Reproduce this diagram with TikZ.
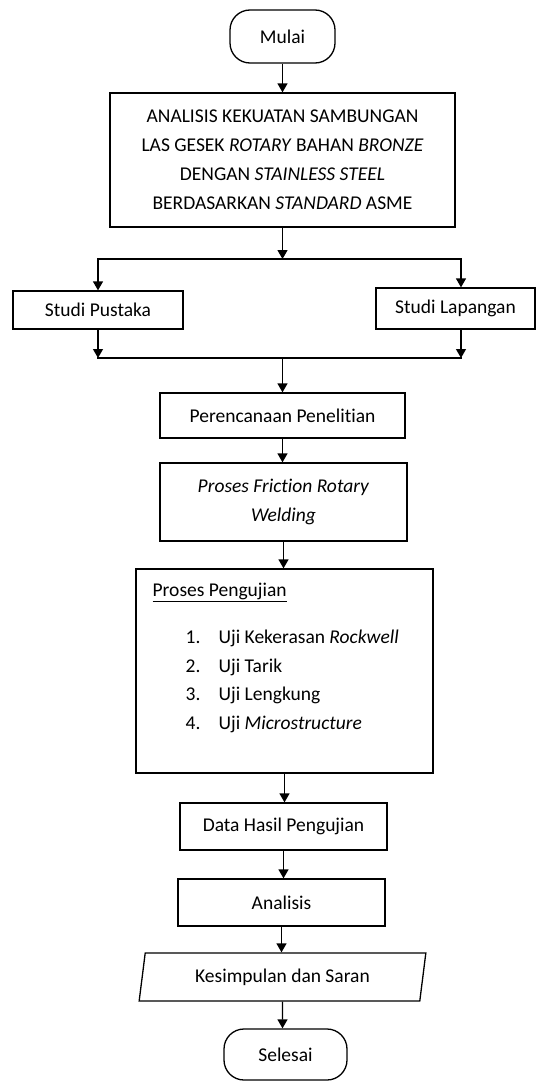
\documentclass[tikz,border=0pt]{standalone}
\usepackage{fontspec}
\setmainfont{Carlito}[Ligatures={NoCommon}]
\usetikzlibrary{arrows.meta,shapes.geometric}

\begin{document}
\begin{tikzpicture}[x=1pt,y=-1pt,line width=1.3pt,
        every node/.style={font=\fontsize{19.5}{29}\selectfont,inner sep=0pt},
        kotak/.style={draw,rectangle,align=center},
        terminal/.style={draw,rectangle,rounded corners=20pt,align=center},
        panah/.style={-{Triangle[width=10pt,length=9pt]}}]
        \useasboundingbox (0,0) rectangle (536,1081);
        %% Mulai
        \node[terminal,minimum width=105pt,minimum height=53pt]
            (mulai) at (282.5,36.5) {Mulai};
        %% Judul
        \node[kotak,minimum width=345pt,minimum height=134pt]
            (judul) at (282.5,160) {ANALISIS KEKUATAN SAMBUNGAN\\
            LAS GESEK \textit{ROTARY} BAHAN \textit{BRONZE}\\
            DENGAN \textit{STAINLESS STEEL}\\
            BERDASARKAN \textit{STANDARD} ASME};
        %% Studi
        \node[kotak,minimum width=170pt,minimum height=38pt]
            (pustaka) at (98,310) {Studi Pustaka};
        \node[kotak,minimum width=159pt,minimum height=41pt]
            (lapangan) at (455.5,308.5) {Studi Lapangan};
        \coordinate (lapatas) at ([xshift=5.5pt]lapangan.north);
        \coordinate (lapbawah) at ([xshift=5.5pt]lapangan.south);
        \coordinate (pecah) at (282.5,259);
        \coordinate (gabung) at (282.5,358);
        %% Proses
        \node[kotak,minimum width=245pt,minimum height=45pt]
            (rencana) at (282.5,415.5) {Perencanaan Penelitian};
        \node[kotak,minimum width=247pt,minimum height=78pt]
            (friksi) at (283.5,502) {\textit{Proses Friction Rotary}\\ \textit{Welding}};
        \node[kotak,minimum width=297pt,minimum height=204pt]
            (uji) at (284.5,671) {};
        \node[anchor=base west] (ujijudul) at (152,596)
            {\underline{Proses Pengujian}};
        \node[anchor=base west,font=\fontsize{19.5}{28.5}\selectfont]
            (ujidaftar) at (185,643.5) {\begin{tabular}[t]{@{}p{33pt}@{}l@{}}
            1. & Uji Kekerasan \textit{Rockwell}\\
            2. & Uji Tarik\\
            3. & Uji Lengkung\\
            4. & Uji \textit{Microstructure}
            \end{tabular}};
        \node[kotak,minimum width=207pt,minimum height=47pt]
            (data) at (283.5,826.5) {Data Hasil Pengujian};
        \node[kotak,minimum width=207pt,minimum height=47pt]
            (analisis) at (281.5,902.5) {Analisis};
        \node[draw,trapezium,trapezium left angle=77,trapezium right angle=103,
            trapezium stretches=true,minimum width=287pt,minimum height=48pt]
            (simpul) at (282.5,977) {Kesimpulan dan Saran};
        %% Selesai
        \node[terminal,minimum width=123pt,minimum height=51pt]
            (selesai) at (285.5,1054.5) {Selesai};
        %% Panah
        \draw[panah] (mulai) -- (judul);
        \draw[panah] (judul) -- (pecah);
        \draw[panah] (pecah) -| (pustaka);
        \draw[panah] (pecah) -| (lapatas);
        \draw[panah] (pustaka) -- (pustaka |- gabung);
        \draw[panah] (lapbawah) -- (lapbawah |- gabung);
        \draw[line cap=rect] (pustaka |- gabung) -- (lapbawah |- gabung);
        \draw[panah] (gabung) -- (rencana);
        \draw[panah] (rencana) -- (rencana |- friksi.north);
        \draw[panah] (friksi) -- (friksi |- uji.north);
        \draw[panah] (uji) -- (uji |- data.north);
        \draw[panah] (data) -- (data |- analisis.north);
        \draw[panah] (analisis) -- (analisis |- simpul.north);
        \draw[panah] (simpul) -- (simpul |- selesai.north);
    \end{tikzpicture}
\end{document}
